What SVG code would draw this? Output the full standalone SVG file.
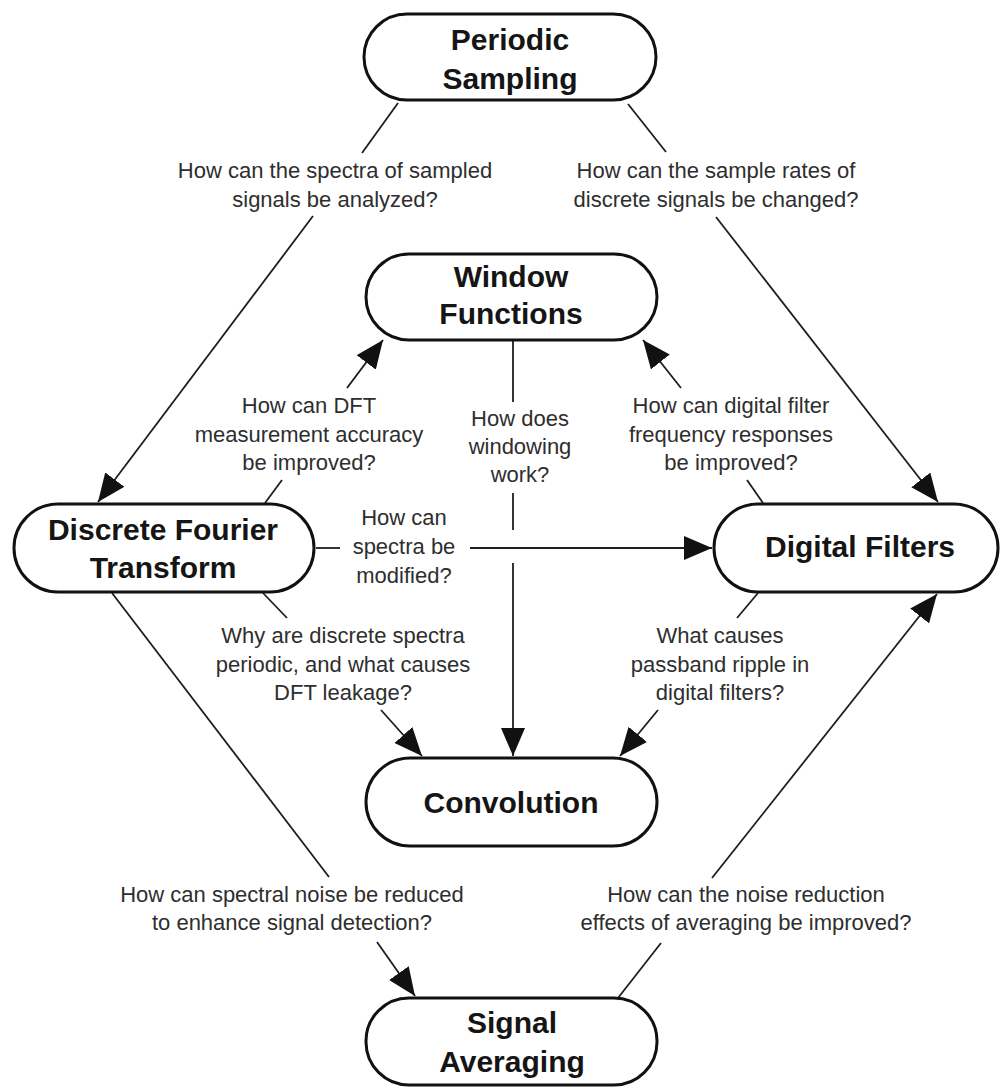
<svg xmlns="http://www.w3.org/2000/svg" width="1002" height="1088" viewBox="0 0 1002 1088">
<style>
.node rect{fill:#fff;stroke:#111;stroke-width:3}
.title{font-family:"Liberation Sans",Arial,sans-serif;font-size:30px;font-weight:bold;fill:#151515;text-anchor:middle}
.lbl{font-family:"Liberation Sans",Arial,sans-serif;font-size:22px;fill:#2e2e2e;text-anchor:middle}
.edge{stroke:#1e1e1e;stroke-width:1.8;fill:none}
</style>
<defs>
<marker id="arr" markerUnits="userSpaceOnUse" markerWidth="30" markerHeight="24" refX="28" refY="12" orient="auto">
<path d="M0,0 L28,12 L0,24 z" fill="#111"/>
</marker>
</defs>
<rect width="1002" height="1088" fill="#fff"/>
<g id="connectors">
<!-- Periodic Sampling -> DFT -->
<line class="edge" x1="398" y1="103" x2="362" y2="153"/>
<line class="edge" x1="313" y1="216" x2="98" y2="502" marker-end="url(#arr)"/>
<!-- Periodic Sampling -> Digital Filters -->
<line class="edge" x1="628" y1="104" x2="666" y2="152"/>
<line class="edge" x1="716" y1="217" x2="938" y2="502" marker-end="url(#arr)"/>
<!-- DFT -> Window Functions -->
<line class="edge" x1="265" y1="503" x2="282" y2="480"/>
<line class="edge" x1="347" y1="388" x2="383" y2="340" marker-end="url(#arr)"/>
<!-- Digital Filters -> Window Functions -->
<line class="edge" x1="763" y1="503" x2="747" y2="480"/>
<line class="edge" x1="681" y1="388" x2="643" y2="340" marker-end="url(#arr)"/>
<!-- Window Functions -> Convolution -->
<line class="edge" x1="513" y1="341" x2="513" y2="402"/>
<line class="edge" x1="513" y1="493" x2="513" y2="530"/>
<line class="edge" x1="513" y1="563" x2="513" y2="756" marker-end="url(#arr)"/>
<!-- DFT -> Digital Filters -->
<line class="edge" x1="316" y1="548" x2="340" y2="548"/>
<line class="edge" x1="470" y1="548" x2="712" y2="548" marker-end="url(#arr)"/>
<!-- DFT -> Convolution -->
<line class="edge" x1="263" y1="593" x2="287" y2="618"/>
<line class="edge" x1="381" y1="710" x2="422" y2="756" marker-end="url(#arr)"/>
<!-- Digital Filters -> Convolution -->
<line class="edge" x1="758" y1="593" x2="737" y2="618"/>
<line class="edge" x1="658" y1="710" x2="620" y2="756" marker-end="url(#arr)"/>
<!-- DFT -> Signal Averaging -->
<line class="edge" x1="112" y1="593" x2="329" y2="877"/>
<line class="edge" x1="377" y1="942" x2="415" y2="996" marker-end="url(#arr)"/>
<!-- Signal Averaging -> Digital Filters -->
<line class="edge" x1="618" y1="998" x2="661" y2="943"/>
<line class="edge" x1="712" y1="878" x2="937" y2="594" marker-end="url(#arr)"/>
</g>
<g id="labels">
<text class="lbl" x="335" y="178">How can the spectra of sampled</text>
<text class="lbl" x="335" y="207">signals be analyzed?</text>
<text class="lbl" x="716" y="178">How can the sample rates of</text>
<text class="lbl" x="716" y="207">discrete signals be changed?</text>
<text class="lbl" x="309" y="413">How can DFT</text>
<text class="lbl" x="309" y="442">measurement accuracy</text>
<text class="lbl" x="309" y="470">be improved?</text>
<text class="lbl" x="731" y="413">How can digital filter</text>
<text class="lbl" x="731" y="442">frequency responses</text>
<text class="lbl" x="731" y="470">be improved?</text>
<text class="lbl" x="520" y="426">How does</text>
<text class="lbl" x="520" y="454">windowing</text>
<text class="lbl" x="520" y="482">work?</text>
<text class="lbl" x="404" y="525">How can</text>
<text class="lbl" x="404" y="554">spectra be</text>
<text class="lbl" x="404" y="583">modified?</text>
<text class="lbl" x="343" y="643">Why are discrete spectra</text>
<text class="lbl" x="343" y="672">periodic, and what causes</text>
<text class="lbl" x="343" y="700">DFT leakage?</text>
<text class="lbl" x="720" y="643">What causes</text>
<text class="lbl" x="720" y="672">passband ripple in</text>
<text class="lbl" x="720" y="700">digital filters?</text>
<text class="lbl" x="292" y="902">How can spectral noise be reduced</text>
<text class="lbl" x="292" y="930">to enhance signal detection?</text>
<text class="lbl" x="746" y="902">How can the noise reduction</text>
<text class="lbl" x="746" y="930">effects of averaging be improved?</text>
</g>
<g id="periodic-sampling" class="node">
<rect x="364" y="14" width="292" height="86" rx="43"/>
<text class="title" x="510" y="50">Periodic</text>
<text class="title" x="510" y="89">Sampling</text>
</g>
<g id="window-functions" class="node">
<rect x="366" y="254" width="291" height="86" rx="43"/>
<text class="title" x="511" y="287">Window</text>
<text class="title" x="511" y="324">Functions</text>
</g>
<g id="dft" class="node">
<rect x="14" y="504" width="300" height="88" rx="44"/>
<text class="title" x="163" y="540">Discrete Fourier</text>
<text class="title" x="163" y="578">Transform</text>
</g>
<g id="digital-filters" class="node">
<rect x="714" y="504" width="284" height="88" rx="44"/>
<text class="title" x="860" y="557">Digital Filters</text>
</g>
<g id="convolution" class="node">
<rect x="366" y="758" width="291" height="88" rx="44"/>
<text class="title" x="511" y="813">Convolution</text>
</g>
<g id="signal-averaging" class="node">
<rect x="366" y="998" width="291" height="87" rx="43"/>
<text class="title" x="512" y="1033">Signal</text>
<text class="title" x="512" y="1072">Averaging</text>
</g>
</svg>
